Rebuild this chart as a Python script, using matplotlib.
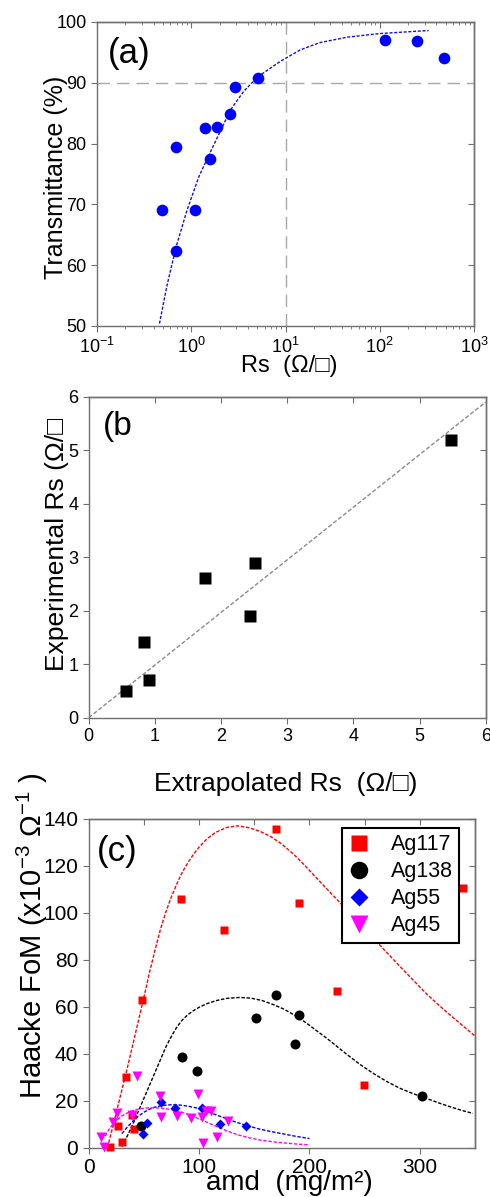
import matplotlib
matplotlib.use("Agg")
import matplotlib.pyplot as plt

plt.rcParams['font.family'] = ['Liberation Sans', 'DejaVu Sans']
plt.rcParams['mathtext.fontset'] = 'custom'
plt.rcParams['mathtext.rm'] = 'Liberation Sans'
plt.rcParams['mathtext.it'] = 'Liberation Sans:italic'
plt.rcParams['mathtext.bf'] = 'Liberation Sans:bold'

# ---------------- data (a) ----------------
rs_a = [0.49, 0.69, 0.69, 1.09, 1.39, 1.58, 1.87, 2.58, 2.91, 5.1, 115, 246, 476]
t_a = [69.1, 79.5, 62.4, 69.1, 82.6, 77.4, 82.8, 84.9, 89.3, 90.8, 97.0, 96.8, 94.0]
fit_rs_a = [0.46, 0.55, 0.69, 0.9, 1.2, 1.56, 2.0, 2.6, 3.6, 5.1, 8.75, 14.3, 23, 45, 100, 330]
fit_t_a = [50.4, 56.5, 63.0, 69.0, 74.5, 78.3, 81.8, 85.5, 88.6, 91.0, 93.5, 95.4, 96.6, 97.5, 98.1, 98.6]
ref_rs = 10
ref_t = 90

# ---------------- data (b) ----------------
extrap_rs = [0.56, 0.84, 0.91, 1.76, 2.44, 2.52, 5.47]
exper_rs = [0.50, 1.41, 0.70, 2.61, 1.91, 2.90, 5.20]
line_b_x = [0, 6]
line_b_y = [0, 5.9]

# ---------------- data (c) ----------------
ag117_x = [19, 30, 26.5, 34, 39.5, 41, 48.5, 83.6, 122.8, 170, 190.2, 224.6, 249.6, 339]
ag117_y = [0.2, 2.5, 9.3, 30.1, 14, 8, 62.8, 106, 92.7, 135.9, 104.2, 66.7, 26.8, 110.4]
ag138_x = [47.2, 84.8, 98, 151.3, 169.7, 190.5, 186.6, 301.9]
ag138_y = [9.2, 38.7, 32.7, 55.4, 65, 56.4, 44.2, 22]
ag55_x = [49.6, 53.1, 65.6, 78, 102.8, 119.4, 142.8]
ag55_y = [5.8, 10.7, 19.6, 16.8, 16.9, 10, 9.2]
ag45_x = [10.9, 13.9, 22.3, 25.6, 39.5, 44, 64.3, 65.5, 79.8, 92.7, 99.2, 102.3, 103.8, 106.4, 110.5, 115.9, 125.9]
ag45_y = [4.4, 0.4, 10.8, 14.9, 13.9, 30.7, 22.2, 12.9, 13.6, 12.5, 22.9, 13.2, 1.9, 15.6, 15.6, 4.7, 11.5]

fit117_x = [17, 20, 25, 30, 35, 40, 45, 50, 55, 60, 65, 70, 75, 80, 85, 90, 95, 100, 107, 115,
            125, 135, 145, 155, 165, 175, 185, 195, 205, 215, 228, 240, 252, 263, 273, 283,
            295, 306, 316, 326, 338, 350]
fit117_y = [0, 5.5, 15, 24.5, 34, 44, 54, 64, 74.5, 84, 93, 100.5, 107, 112.5, 117.5, 121.5,
            125, 128, 131.5, 134.3, 136.4, 137.1, 136.3, 134.8, 132.5, 129.3, 125.3, 120.6,
            115.6, 110.6, 104.2, 98.2, 92.2, 86.7, 81.7, 76.7, 70.9, 65.6, 61.2, 57.1, 52.3, 47.6]
fit138_x = [30, 35, 40, 45, 50, 55, 60, 65, 70, 75, 80, 85, 90, 95, 100, 107, 115, 125, 137,
            147, 157, 167, 177, 187, 197, 206, 216, 225, 234, 246, 258, 270, 282, 294, 306,
            317, 327, 338, 348]
fit138_y = [0.5, 5, 10, 15.5, 21, 26.5, 32, 37.5, 43, 47.5, 51.5, 54.5, 56.7, 58.4, 59.8,
            61.3, 62.6, 63.6, 64.0, 63.7, 62.7, 61.0, 59.0, 56.3, 53.2, 50.0, 46.5, 43.1, 39.7,
            35.4, 31.6, 28.2, 25.3, 23.0, 21.0, 19.1, 17.5, 15.9, 14.6]
fit55_x = [30, 35, 40, 45, 50, 55, 60, 67, 75, 82, 90, 97, 105, 112, 120, 128, 136, 145,
           155, 165, 175, 187, 200]
fit55_y = [6, 8.8, 11.3, 13.4, 15.1, 16.4, 17.3, 18.0, 18.3, 18.2, 17.7, 17.0, 15.9, 14.6,
           13.2, 11.8, 10.5, 9.2, 7.9, 6.9, 6.0, 4.9, 3.9]
fit45_x = [15, 18, 21, 25, 30, 35, 40, 45, 50, 55, 60, 65, 70, 75, 80, 85, 90, 95, 100, 107,
           115, 125, 135, 145, 155, 167, 180, 190, 200]
fit45_y = [5, 7.5, 9.5, 11.6, 13.5, 14.8, 15.8, 16.4, 16.8, 17.0, 17.0, 16.9, 16.6, 16.2,
           15.7, 15.0, 14.2, 13.3, 12.3, 10.9, 9.2, 7.2, 5.5, 4.3, 3.3, 2.5, 1.9, 1.5, 1.2]

series_names = ['Ag117', 'Ag138', 'Ag55', 'Ag45']

W, H = 490, 1197
fig = plt.figure(figsize=(W / 100, H / 100), dpi=100)

SPINE = '#707070'


def box_axes(l, t, r, b):
    return fig.add_axes([l / W, 1 - b / H, (r - l) / W, (b - t) / H])


def style(ax, labelsize):
    for s in ax.spines.values():
        s.set_color(SPINE)
        s.set_linewidth(1.0)
    ax.tick_params(which='both', direction='out', color=SPINE, labelsize=labelsize,
                   labelcolor='black', top=False, right=False)
    ax.tick_params(which='major', length=4)
    ax.tick_params(which='minor', length=2.5)
    sx = ax.secondary_xaxis('top')
    sy = ax.secondary_yaxis('right')
    for sa in (sx, sy):
        for s in sa.spines.values():
            s.set_color(SPINE)
            s.set_linewidth(1.0)
        sa.tick_params(which='both', direction='in', color=SPINE, labeltop=False,
                       labelright=False, labelbottom=False, labelleft=False)
        sa.tick_params(which='major', length=4)
        sa.tick_params(which='minor', length=2.5)
    return sx, sy


# ================= (a) =================
axa = box_axes(97, 22, 474, 326)
axa.set_xscale('log')
axa.set_xlim(0.1, 1000)
axa.set_ylim(50, 100)
axa.axhline(ref_t, color='#a8a8a8', lw=1.0, ls=(0, (9, 5)), zorder=1)
axa.axvline(ref_rs, color='#a8a8a8', lw=1.0, ls=(0, (9, 5)), zorder=1)
axa.plot(fit_rs_a, fit_t_a, color='#1010e0', lw=1.0, ls=(0, (2.2, 1.2)), zorder=2)
axa.plot(rs_a, t_a, 'o', color='#0000ff', ms=8.4, mec='none', zorder=3)
axa.set_yticks([50, 60, 70, 80, 90, 100])
style(axa, 13)
axa.set_xlabel('Rs  (Ω/□)', fontsize=17)
axa.xaxis.set_label_coords(0.51, -0.13)
axa.xaxis.label.set_va('center')
axa.set_ylabel('Transmittance (%)', fontsize=18, va='center')
axa.yaxis.set_label_coords(-0.11, 0.488)
axa.text(0.029, 0.898, '(a)', transform=axa.transAxes, fontsize=25,
         ha='left', va='center')

# ================= (b) =================
axb = box_axes(88.7, 396.7, 485.7, 717.7)
axb.set_xlim(0, 6)
axb.set_ylim(0, 6)
axb.plot(line_b_x, line_b_y, color='#8a8a8a', lw=1.0, ls=(0, (3, 1.5)), zorder=1)
axb.plot(extrap_rs, exper_rs, 's', color='black', ms=8.4, mec='none', zorder=3)
axb.set_xticks(range(0, 7))
axb.set_yticks(range(0, 7))
style(axb, 13)
axb.set_xlabel('Extrapolated Rs  (Ω/□)', fontsize=19)
axb.xaxis.set_label_coords(0.495, -0.207)
axb.xaxis.label.set_va('center')
axb.set_ylabel('Experimental Rs (Ω/□', fontsize=19, va='center')
axb.yaxis.set_label_coords(-0.080, 0.541)
axb.text(0.036, 0.906, '(b', transform=axb.transAxes, fontsize=24,
         ha='left', va='center')

# ================= (c) =================
axc = box_axes(88.7, 819, 475, 1147.7)
axc.set_xlim(0, 350)
axc.set_ylim(0, 140)
dash = (0, (2.5, 1.2))
axc.plot(fit117_x, fit117_y, color='#ff0000', lw=1.0, ls=dash, zorder=2)
axc.plot(fit138_x, fit138_y, color='black', lw=1.0, ls=dash, zorder=2)
axc.plot(fit55_x, fit55_y, color='#0000ff', lw=1.0, ls=dash, zorder=2)
axc.plot(fit45_x, fit45_y, color='#ff00ff', lw=1.0, ls=dash, zorder=2)
axc.plot(ag117_x, ag117_y, 's', color='#ff0000', ms=6.3, mec='none', clip_on=False,
         zorder=3, label=series_names[0])
axc.plot(ag138_x, ag138_y, 'o', color='black', ms=7.2, mec='none', clip_on=False,
         zorder=3, label=series_names[1])
axc.plot(ag55_x, ag55_y, 'D', color='#0000ff', ms=5.3, mec='none', clip_on=False,
         zorder=3, label=series_names[2])
axc.plot(ag45_x, ag45_y, 'v', color='#ff00ff', ms=7.4, mec='none', clip_on=False,
         zorder=3, label=series_names[3])
axc.set_xticks([0, 100, 200, 300])
axc.set_yticks(range(0, 141, 20))
style(axc, 15)
leg = axc.legend(loc='upper left', bbox_to_anchor=(0.656, 0.973), borderaxespad=0,
                 fontsize=15.5, markerscale=1.75, handlelength=1.0, handletextpad=0.95,
                 labelspacing=0.28, borderpad=0.3, fancybox=False, framealpha=1,
                 edgecolor='black')
leg.get_frame().set_linewidth(1.5)
axc.set_xlabel('amd  (mg/m²)', fontsize=20)
axc.xaxis.set_label_coords(0.52, -0.108)
axc.xaxis.label.set_va('center')
axc.set_ylabel(r'Haacke FoM (x10$^{-3}$ Ω$^{-1}$ )', fontsize=21, va='center')
axc.yaxis.set_label_coords(-0.147, 0.644)
axc.text(0.022, 0.90, '(c)', transform=axc.transAxes, fontsize=25,
         ha='left', va='center')

fig.savefig('out.png', dpi=100)
